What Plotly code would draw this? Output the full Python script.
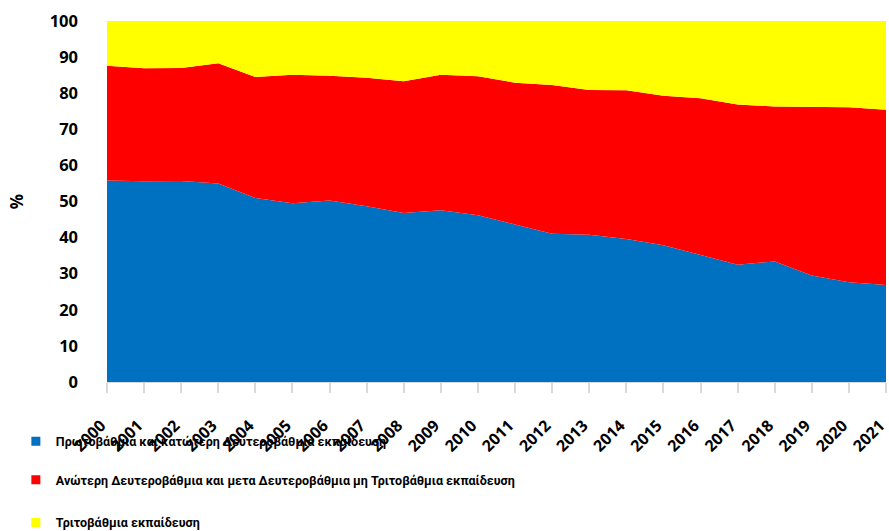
import plotly.graph_objects as go

years = [str(y) for y in range(2000, 2022)]
primary = [55.8, 55.6, 55.7, 55.0, 51.0, 49.5, 50.3, 48.7, 46.8, 47.6, 46.2,
           43.6, 41.1, 40.8, 39.6, 37.9, 35.1, 32.5, 33.4, 29.5, 27.6, 26.9]
upper_secondary = [31.8, 31.3, 31.3, 33.3, 33.5, 35.6, 34.5, 35.6, 36.5, 37.5, 38.5,
                   39.3, 41.2, 40.1, 41.2, 41.4, 43.5, 44.4, 42.9, 46.7, 48.5, 48.5]
tertiary = [12.4, 13.1, 13.0, 11.7, 15.5, 14.9, 15.2, 15.7, 16.7, 14.9, 15.3,
            17.1, 17.7, 19.1, 19.2, 20.7, 21.4, 23.1, 23.7, 23.8, 23.9, 24.6]

names = ["Πρωτοβάθμια και κατώτερη Δευτεροβάθμια εκπαίδευση",
         "Ανώτερη Δευτεροβάθμια και μετα Δευτεροβάθμια μη Τριτοβάθμια εκπαίδευση",
         "Τριτοβάθμια εκπαίδευση"]
colors = ["#0070C0", "#FF0000", "#FFFF00"]
series = [primary, upper_secondary, tertiary]
legends = ["legend", "legend2", "legend3"]

FONT = "Open Sans"
LEGFONT = "Roboto"
fig = go.Figure()
for n, c, s in zip(names, colors, series):
    fig.add_trace(go.Scatter(
        x=years, y=s, name=n, mode="lines", stackgroup="one",
        line=dict(width=0, color=c), fillcolor=c, showlegend=False,
    ))
# legend entries with square swatches
for n, c, lg in zip(names, colors, legends):
    fig.add_trace(go.Scatter(
        x=[None], y=[None], name=n, mode="markers", legend=lg, showlegend=True,
        marker=dict(symbol="square", size=9, color=c),
    ))

leg_common = dict(font=dict(family=LEGFONT, size=12.5, color="#000000", weight="bold"),
                  bgcolor="rgba(0,0,0,0)", x=-0.117, xanchor="left", yanchor="middle",
                  itemwidth=30)
fig.update_layout(
    width=889, height=531, showlegend=True,
    margin=dict(l=107, r=3, t=21, b=149, autoexpand=False),
    paper_bgcolor="white", plot_bgcolor="white",
    font=dict(family=FONT, color="#000000"),
    legend=dict(**leg_common, y=-0.165),
    legend2=dict(**leg_common, y=-0.272),
    legend3=dict(**leg_common, y=-0.39),
    xaxis=dict(type="category", range=[0, 21], showgrid=False, tickangle=-45,
               automargin=False,
               tickfont=dict(family=FONT, size=16, weight="bold", color="#000000"),
               showline=True, linecolor="#D9D9D9", ticks="outside", ticklen=10,
               tickwidth=2, tickcolor="#D9D9D9", ticklabelstandoff=17,
               ticklabelshift=-6),
    yaxis=dict(range=[0, 100], dtick=10, showgrid=False, zeroline=False,
               automargin=False,
               tickfont=dict(family=FONT, size=16.5, weight="bold", color="#000000"),
               ticks="", ticklabelstandoff=28,
               title=dict(text="%", font=dict(family=FONT, size=17, weight="bold"),
                          standoff=21)),
)
fig.write_html(
    "out.html",
    config={"displayModeBar": False},
    post_script="document.body.style.margin='0';"
                "document.documentElement.style.overflow='hidden';"
                "document.body.style.overflow='hidden';",
)
